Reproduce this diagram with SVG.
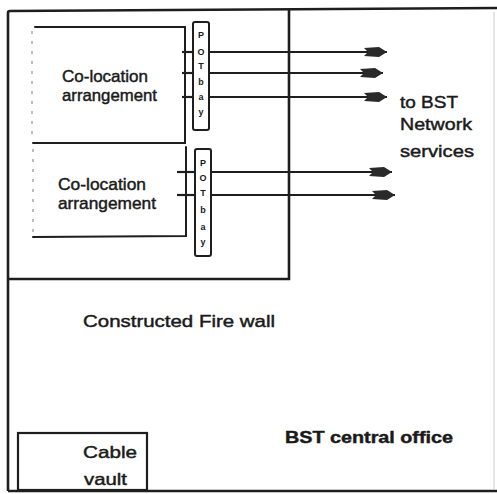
<svg xmlns="http://www.w3.org/2000/svg" width="497" height="494" viewBox="0 0 497 494">
<style>
  .ln{stroke:#1e1e1e;stroke-width:2;fill:none;stroke-linecap:round}
  .thick{stroke:#1e1e1e;stroke-width:2.6;fill:none}
  .faint{stroke:#9a9a9a;stroke-width:1.3;fill:none;stroke-dasharray:3 7}
  .txt{font-family:"Liberation Sans",Arial,sans-serif;font-size:17px;fill:#1a1a1a;stroke:#1a1a1a;stroke-width:0.45}
  .bay{fill:#fff;stroke:#1e1e1e;stroke-width:2}
  .bl{font-family:"Liberation Sans",Arial,sans-serif;font-size:9px;font-weight:bold;fill:#1a1a1a;text-anchor:middle}
  .conn{stroke:#1e1e1e;stroke-width:2.2;fill:none}
</style>
<defs>
  <marker id="arr" markerUnits="userSpaceOnUse" markerWidth="24" markerHeight="12" refX="23" refY="6" orient="auto">
    <path d="M0,2 L15,1 L23,6 L15,11 L0,10 L4,6 Z" fill="#2a2a2a"/>
  </marker>
</defs>
<rect width="497" height="494" fill="#fff"/>

<g id="central-office">
  <path class="thick" d="M8,491 L8,13 Q8,11 10,11 L497,8"/>
  <path class="thick" d="M8,491 L497,491"/>
  <path d="M494,12 L494,490" stroke="#d4d4d4" stroke-width="1.2" fill="none"/>
  <text class="txt" x="285" y="443" font-weight="bold" textLength="168" lengthAdjust="spacingAndGlyphs">BST central office</text>
</g>

<g id="fire-wall">
  <path class="thick" d="M289,10 L289,279 L8,279"/>
  <text class="txt" x="83" y="327" textLength="192" lengthAdjust="spacingAndGlyphs">Constructed Fire wall</text>
</g>

<g id="colocation-1">
  <path class="ln" d="M35,27 L185,27 L185,143 L33,143"/>
  <path class="faint" d="M32,31 L32,141"/>
  <text class="txt" x="62" y="82" textLength="86" lengthAdjust="spacingAndGlyphs">Co-location</text>
  <text class="txt" x="62" y="101" textLength="95" lengthAdjust="spacingAndGlyphs">arrangement</text>
</g>

<g id="colocation-2">
  <path class="ln" d="M186,147 L186,236 L33,237"/>
  <path class="faint" d="M33,149 L33,234"/>
  <text class="txt" x="58" y="190" textLength="88" lengthAdjust="spacingAndGlyphs">Co-location</text>
  <text class="txt" x="58" y="209" textLength="98" lengthAdjust="spacingAndGlyphs">arrangement</text>
</g>

<g id="connectors">
  <path class="conn" d="M182,52 L193,52"/>
  <path class="conn" d="M182,73 L193,73"/>
  <path class="conn" d="M182,97 L193,97"/>
  <path class="conn" d="M177,172 L195,172"/>
  <path class="conn" d="M177,195 L195,195"/>
  <path class="conn" d="M209,52 L387,52" marker-end="url(#arr)"/>
  <path class="conn" d="M209,73 L383,73" marker-end="url(#arr)"/>
  <path class="conn" d="M209,97 L387,97" marker-end="url(#arr)"/>
  <path class="conn" d="M211,172 L392,172" marker-end="url(#arr)"/>
  <path class="conn" d="M211,195 L395,195" marker-end="url(#arr)"/>
</g>

<g id="pot-bay-1">
  <rect class="bay" x="193" y="22" width="16" height="108" rx="2"/>
  <text class="bl" x="201" y="38">P</text>
  <text class="bl" x="201" y="55">O</text>
  <text class="bl" x="201" y="69">T</text>
  <text class="bl" x="201" y="85">b</text>
  <text class="bl" x="201" y="100">a</text>
  <text class="bl" x="201" y="115">y</text>
</g>

<g id="pot-bay-2">
  <rect class="bay" x="195" y="149" width="16" height="107" rx="2"/>
  <text class="bl" x="203" y="166">P</text>
  <text class="bl" x="203" y="181">O</text>
  <text class="bl" x="203" y="196">T</text>
  <text class="bl" x="203" y="213">b</text>
  <text class="bl" x="203" y="230">a</text>
  <text class="bl" x="203" y="245">y</text>
</g>

<g id="network-services">
  <text class="txt" x="400" y="108" textLength="58" lengthAdjust="spacingAndGlyphs">to BST</text>
  <text class="txt" x="400" y="130" textLength="72" lengthAdjust="spacingAndGlyphs">Network</text>
  <text class="txt" x="400" y="157" textLength="74" lengthAdjust="spacingAndGlyphs">services</text>
</g>

<g id="cable-vault">
  <rect x="18" y="433" width="129" height="57" fill="none" stroke="#1e1e1e" stroke-width="2.2"/>
  <text class="txt" x="83" y="458" textLength="54" lengthAdjust="spacingAndGlyphs">Cable</text>
  <text class="txt" x="84" y="485" textLength="43" lengthAdjust="spacingAndGlyphs">vault</text>
</g>
</svg>
